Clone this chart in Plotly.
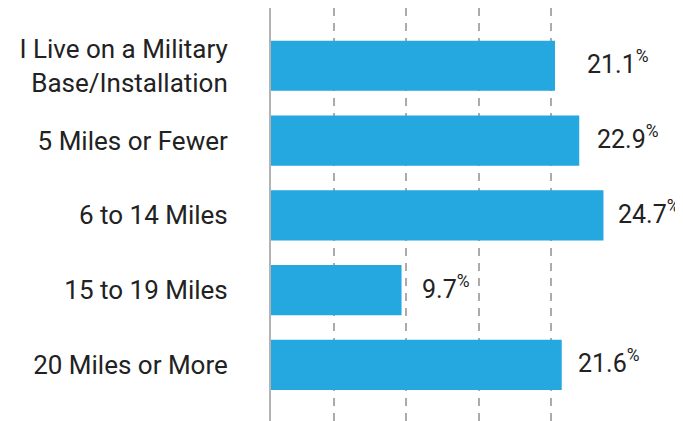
import plotly.graph_objects as go

categories = ["I Live on a Military<br>Base/Installation", "5 Miles or Fewer",
              "6 to 14 Miles", "15 to 19 Miles", "20 Miles or More"]
values = [21.1, 22.9, 24.7, 9.7, 21.6]
value_labels = ["21.1", "22.9", "24.7", "9.7", "21.6"]
label_shift = [30, 16, 13, 18, 14]
grid_vals = [4.68, 10.05, 15.42, 20.79]

BAR = "#25A7DF"
TXT = "#222222"

fig = go.Figure(go.Bar(
    x=values, y=categories, orientation="h",
    marker=dict(color=BAR, line=dict(width=0)),
    width=0.67, hoverinfo="skip",
))

for c, v, t, s in zip(categories, values, value_labels, label_shift):
    fig.add_annotation(x=v, y=c, text=t + "<sup>%</sup>", showarrow=False,
                       xanchor="left", yanchor="middle", xshift=s, yshift=3,
                       font=dict(family="Roboto", size=25, color=TXT))

# page body has an 8px default margin, so the figure is sized to fit the window
fig.update_layout(
    width=675, height=413,
    margin=dict(l=263, r=0, t=0, b=0, autoexpand=False),
    paper_bgcolor="white", plot_bgcolor="white",
    showlegend=False,
    font=dict(family="Roboto", size=26, color=TXT),
    xaxis=dict(range=[0, 30.61], showticklabels=False, zeroline=False,
               showgrid=True, gridcolor="#ababab", gridwidth=1.5,
               griddash="8px,7px", tickmode="array", tickvals=grid_vals,
               ticks="", automargin=False),
    yaxis=dict(range=[4.75, -0.773], showgrid=False, zeroline=False,
               showline=True, linecolor="#b3b3b3", linewidth=2,
               ticks="outside", ticklen=36, tickcolor="rgba(0,0,0,0)",
               automargin=False,
               tickfont=dict(family="Roboto", size=26, color=TXT)),
)

fig.write_html("out.html")
